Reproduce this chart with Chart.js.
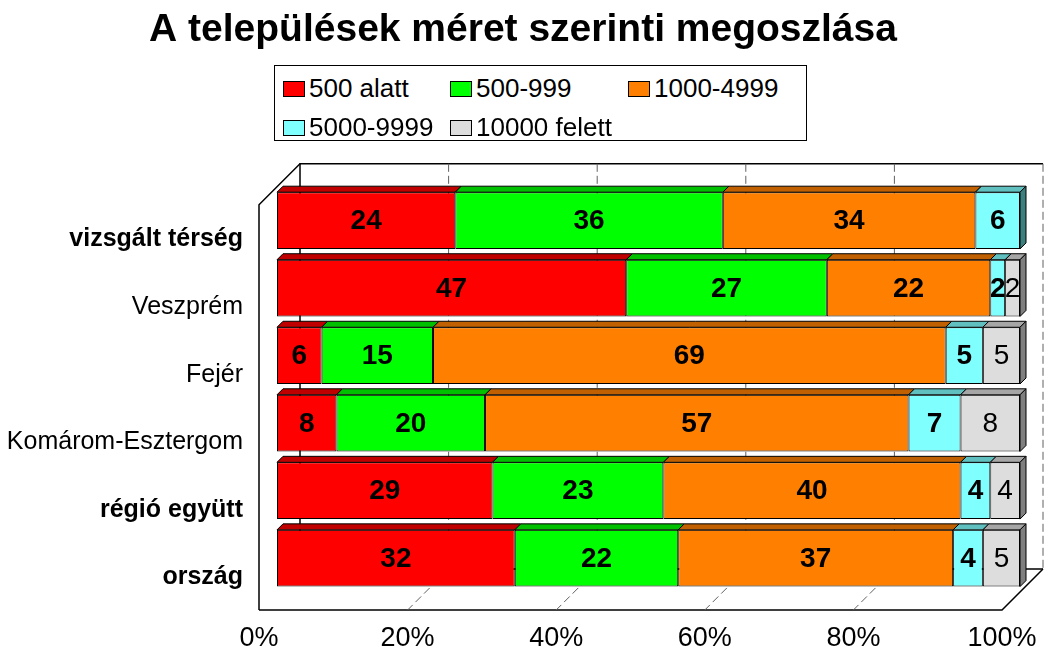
<!DOCTYPE html>
<html>
<head>
<meta charset="utf-8">
<script src="https://cdn.jsdelivr.net/npm/chart.js@4"></script>
<style>
  body { margin: 0; background: #fff; }
  #wrap { position: relative; width: 1046px; height: 657px; }
  #legend {
    position: absolute; left: 274px; top: 65px; width: 531px; height: 74px;
    border: 1.5px solid #000; background: #fff;
    font-family: "Liberation Sans", Arial, sans-serif; font-size: 26px; color: #000;
  }
  .item { position: absolute; display: flex; align-items: center; white-space: nowrap; }
  .sw { width: 20px; height: 14px; border: 1px solid #000; margin-right: 4px; }
</style>
</head>
<body>
<div id="wrap">
  <canvas id="chart" width="1046" height="657"></canvas>
  <div id="legend"></div>
</div>
<script>
const categories = ["vizsgált térség", "Veszprém", "Fejér", "Komárom-Esztergom", "régió együtt", "ország"];
const boldCategories = [true, false, false, false, true, true];
const seriesNames = ["500 alatt", "500-999", "1000-4999", "5000-9999", "10000 felett"];
const under500 = [24, 47, 6, 8, 29, 32];
const from500 = [36, 27, 15, 20, 23, 22];
const from1000 = [34, 22, 69, 57, 40, 37];
const from5000 = [6, 2, 5, 7, 4, 4];
const over10000 = [0, 2, 5, 8, 4, 5];
const xTicks = [0, 20, 40, 60, 80, 100];

const fillColors = ["#FF0000", "#00FF00", "#FF8000", "#80FFFF", "#DDDDDD"];
const topColors = ["#C00000", "#00C000", "#C06000", "#60C0C0", "#A6A6A6"];
const sideColors = ["#800000", "#008000", "#804000", "#3C7F7F", "#7F7F7F"];
const labelBold = [true, true, true, true, false];

const FONT = '"Liberation Sans", Arial, sans-serif';
const seriesData = [under500, from500, from1000, from5000, over10000];

// legend (html, laid out in columns like the original)
const legendPos = [[8, 7], [175, 7], [353, 7], [8, 46], [175, 46]];
const legendEl = document.getElementById("legend");
seriesNames.forEach((name, i) => {
  const it = document.createElement("div");
  it.className = "item";
  it.style.left = legendPos[i][0] + "px";
  it.style.top = legendPos[i][1] + "px";
  it.innerHTML = '<span class="sw" style="background:' + fillColors[i] + '"></span><span>' + name + "</span>";
  legendEl.appendChild(it);
});

// 3D offsets (px)
const BACK = 23;   // back wall is up/right of bar face
const FRONT = 18;  // floor front edge is down/left of bar face
const DEPTH = 6;   // bar top face

const frame3d = {
  id: "frame3d",
  beforeDatasetsDraw(chart) {
    const { ctx, chartArea: a, scales } = chart;
    const xs = scales.x;
    const bl = a.left + BACK, br = a.right + BACK, bt = a.top - BACK, bb = a.bottom - BACK;
    const fl = a.left - FRONT, fr = a.right - FRONT, fb = a.bottom + FRONT;
    const d = bl - fl;
    ctx.save();
    ctx.strokeStyle = "#000";
    ctx.lineWidth = 1.5;
    // back wall
    ctx.beginPath();
    ctx.moveTo(br, bt); ctx.lineTo(bl, bt); ctx.lineTo(bl, bb); ctx.lineTo(br, bb);
    ctx.stroke();
    // left wall
    ctx.beginPath();
    ctx.moveTo(bl, bt); ctx.lineTo(fl, bt + d); ctx.lineTo(fl, fb);
    ctx.stroke();
    // floor
    ctx.beginPath();
    ctx.moveTo(fl, fb); ctx.lineTo(fr, fb); ctx.lineTo(br, bb);
    ctx.stroke();
    // gridlines
    ctx.strokeStyle = "#606060";
    ctx.lineWidth = 1;
    ctx.setLineDash([8, 4]);
    xTicks.forEach((v) => {
      if (v === 0) return;
      const px = xs.getPixelForValue(v) + BACK;
      ctx.beginPath();
      ctx.moveTo(px, bt); ctx.lineTo(px, bb);
      if (v !== 100) ctx.lineTo(px - d, fb);
      ctx.stroke();
    });
    ctx.restore();
  },
  afterDatasetsDraw(chart) {
    const { ctx } = chart;
    const n = chart.data.labels.length;
    ctx.save();
    ctx.strokeStyle = "#000";
    ctx.lineWidth = 1;
    for (let r = 0; r < n; r++) {
      let last = -1;
      chart.data.datasets.forEach((ds, i) => {
        if (ds.data[r] > 0) last = i;
      });
      chart.data.datasets.forEach((ds, i) => {
        if (!(ds.data[r] > 0)) return;
        const el = chart.getDatasetMeta(i).data[r];
        const { x, y, base, height } = el.getProps(["x", "y", "base", "height"], true);
        const top = y - height / 2, bot = y + height / 2;
        ctx.fillStyle = topColors[i];
        ctx.beginPath();
        ctx.moveTo(base, top); ctx.lineTo(base + DEPTH, top - DEPTH);
        ctx.lineTo(x + DEPTH, top - DEPTH); ctx.lineTo(x, top); ctx.closePath();
        ctx.fill(); ctx.stroke();
        if (i === last) {
          ctx.fillStyle = sideColors[i];
          ctx.beginPath();
          ctx.moveTo(x, top); ctx.lineTo(x + DEPTH, top - DEPTH);
          ctx.lineTo(x + DEPTH, bot - DEPTH); ctx.lineTo(x, bot); ctx.closePath();
          ctx.fill(); ctx.stroke();
        }
      });
    }
    // value labels
    ctx.fillStyle = "#000";
    ctx.textAlign = "center";
    ctx.textBaseline = "middle";
    chart.data.datasets.forEach((ds, i) => {
      ctx.font = (labelBold[i] ? "bold " : "") + "28px " + FONT;
      chart.getDatasetMeta(i).data.forEach((el, r) => {
        const v = ds.data[r];
        if (!(v > 0)) return;
        const { x, y, base } = el.getProps(["x", "y", "base"], true);
        ctx.fillText(String(v), (x + base) / 2, y + 1);
      });
    });
    ctx.restore();
  }
};

new Chart(document.getElementById("chart"), {
  type: "bar",
  data: {
    labels: categories,
    datasets: seriesNames.map((name, i) => ({
      label: name,
      data: seriesData[i],
      backgroundColor: fillColors[i],
      borderColor: "#000",
      borderWidth: 1,
      borderSkipped: false,
      barPercentage: 0.84,
      categoryPercentage: 1
    }))
  },
  options: {
    indexAxis: "y",
    responsive: false,
    animation: false,
    layout: { padding: 0 },
    plugins: {
      legend: { display: false },
      tooltip: { enabled: false },
      title: {
        display: true,
        text: "A települések méret szerinti megoszlása",
        color: "#000",
        font: { family: FONT, size: 39, weight: "bold" },
        padding: { top: 7, bottom: 133 }
      }
    },
    scales: {
      x: {
        stacked: true,
        min: 0,
        max: 100,
        grid: { display: false, drawTicks: false },
        border: { display: false },
        afterBuildTicks: (s) => { s.ticks = xTicks.map((v) => ({ value: v })); },
        afterFit: (s) => { s.height = 65; s.paddingLeft = 0; s.paddingRight = 0; },
        ticks: {
          color: "#000",
          font: { family: FONT, size: 27 },
          padding: 30,
          labelOffset: -FRONT,
          maxRotation: 0,
          callback: (v) => v + "%"
        }
      },
      y: {
        stacked: true,
        grid: { display: false, drawTicks: false },
        border: { display: false },
        afterFit: (s) => { s.width = 277; s.paddingTop = 0; s.paddingBottom = 0; },
        ticks: {
          color: "#000",
          padding: 34,
          labelOffset: 19,
          font: (c) => ({ family: FONT, size: 25, weight: boldCategories[c.index] ? "bold" : "normal" })
        }
      },
      // empty right-hand strip so the plot ends where the 3D side wall begins
      yRight: {
        type: "category",
        position: "right",
        grid: { display: false, drawTicks: false },
        border: { display: false },
        ticks: { display: false },
        afterFit: (s) => { s.width = 26; s.paddingTop = 0; s.paddingBottom = 0; }
      }
    }
  },
  plugins: [frame3d]
});
</script>
</body>
</html>
